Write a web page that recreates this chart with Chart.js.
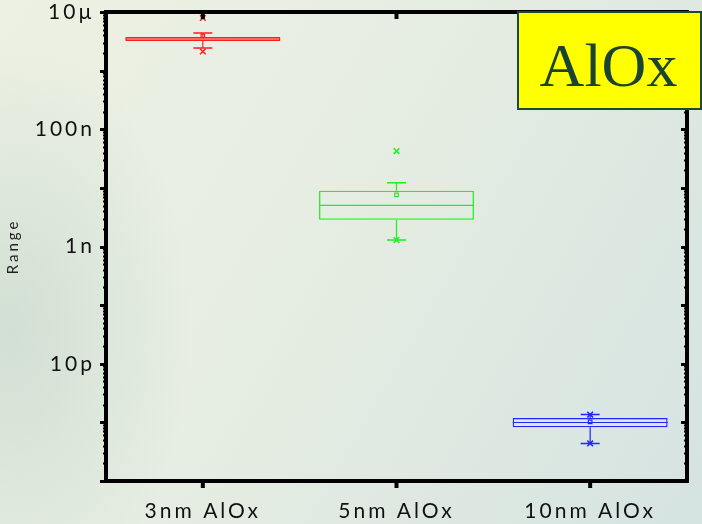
<!DOCTYPE html>
<html>
<head>
<meta charset="utf-8">
<script src="https://cdn.jsdelivr.net/npm/chart.js@4.4.1/dist/chart.umd.min.js"></script>
<style>
  html, body { margin: 0; padding: 0; }
  body {
    width: 702px; height: 524px; overflow: hidden;
    background:
      radial-gradient(ellipse 260px 420px at 10px 330px, rgba(190,210,200,0.55), rgba(190,210,200,0) 70%),
      linear-gradient(120deg, #edf1e3 0%, #e6ede2 45%, #d5e3e1 100%);
  }
  #wrap { position: relative; width: 702px; height: 524px; }
  canvas { display: block; }
</style>
</head>
<body>
<div id="wrap"><canvas id="boxes" width="702" height="524"></canvas></div>
<script>
const categories = ["3nm AlOx", "5nm AlOx", "10nm AlOx"];
const q1 = [3.2e-6, 2.86e-9, 8.28e-13];
const median = [3.46e-6, 5.03e-9, 9.95e-13];
const q3 = [3.74e-6, 8.93e-9, 1.19e-12];
const whiskerLow = [2.43e-6, 1.29e-9, 4.37e-13];
const whiskerHigh = [4.38e-6, 1.22e-8, 1.36e-12];
const mean = [3.9e-6, 7.62e-9, 1.02e-12];
const minimum = [2.12e-6, 1.29e-9, 4.37e-13];
const maximum = [7.9e-6, 4.25e-8, 1.36e-12];
const colors = ["#ff1e1e", "#1ff01f", "#2424ff"];
const decadeLabels = { "-5": "10µ", "-7": "100n", "-9": "1n", "-11": "10p" };

const FONT = "Lato, 'Open Sans', sans-serif";

// whiskers, medians, frame and the legend box
const boxParts = {
  id: "boxParts",
  beforeDraw(chart) {
    chart.ctx.letterSpacing = "3px";
  },
  afterDatasetsDraw(chart) {
    const ctx = chart.ctx;
    const y = chart.scales.y;
    const bars = chart.getDatasetMeta(0).data;
    ctx.save();
    bars.forEach((bar, i) => {
      const half = bar.width / 2;
      ctx.strokeStyle = colors[i];
      ctx.lineWidth = 1.2;
      ctx.beginPath();
      const ym = y.getPixelForValue(median[i]);
      ctx.moveTo(bar.x - half, ym);
      ctx.lineTo(bar.x + half, ym);
      const yq3 = y.getPixelForValue(q3[i]), yq1 = y.getPixelForValue(q1[i]);
      const yh = y.getPixelForValue(whiskerHigh[i]), yl = y.getPixelForValue(whiskerLow[i]);
      ctx.moveTo(bar.x, yq3); ctx.lineTo(bar.x, yh);
      ctx.moveTo(bar.x, yq1); ctx.lineTo(bar.x, yl);
      ctx.stroke();
      ctx.lineWidth = 1.6;
      ctx.beginPath();
      ctx.moveTo(bar.x - 9.5, yh); ctx.lineTo(bar.x + 9.5, yh);
      ctx.moveTo(bar.x - 9.5, yl); ctx.lineTo(bar.x + 9.5, yl);
      ctx.stroke();
    });
    ctx.restore();
  },
  afterDraw(chart) {
    const ctx = chart.ctx;
    const a = chart.chartArea;
    const y = chart.scales.y;
    const x = chart.scales.x;
    ctx.save();
    ctx.letterSpacing = "0px";
    ctx.strokeStyle = "#000";
    ctx.lineWidth = 4;
    ctx.strokeRect(a.left, a.top, a.right - a.left, a.bottom - a.top);
    // y ticks, left outside / right inside
    y.ticks.forEach(t => {
      const p = Math.round(y.getPixelForValue(t.value)) + 0.5;
      const major = Math.abs(Math.log10(t.value) - Math.round(Math.log10(t.value))) < 1e-6;
      ctx.lineWidth = major ? 3 : 2;
      const len = major ? 6 : 3;
      ctx.beginPath();
      ctx.moveTo(a.left, p); ctx.lineTo(a.left - len, p);
      ctx.moveTo(a.right, p); ctx.lineTo(a.right - len, p);
      ctx.stroke();
    });
    // x ticks, bottom outside / top inside
    ctx.lineWidth = 4;
    categories.forEach((c, i) => {
      const p = x.getPixelForValue(i);
      ctx.beginPath();
      ctx.moveTo(p, a.bottom); ctx.lineTo(p, a.bottom + 7);
      ctx.moveTo(p, a.top); ctx.lineTo(p, a.top + 7);
      ctx.stroke();
    });
    // legend tag
    const bx = a.right - 169, by = a.top, bw = 183, bh = 97;
    ctx.fillStyle = "#ffff00";
    ctx.fillRect(bx, by, bw, bh);
    ctx.strokeStyle = "#1c4a2c";
    ctx.lineWidth = 2;
    ctx.strokeRect(bx, by, bw, bh);
    ctx.fillStyle = "#1b4332";
    ctx.font = "62px 'Liberation Serif', 'DejaVu Serif', serif";
    ctx.textAlign = "center";
    ctx.textBaseline = "alphabetic";
    ctx.fillText("AlOx", bx + bw / 2 - 1, by + 74);
    ctx.restore();
  }
};

const decadeTicks = [];
for (let d = -13; d <= -5; d++) {
  for (let m = 1; m <= 9; m++) {
    if (d === -5 && m > 1) break;
    decadeTicks.push({ value: Number((m + "e" + d)) });
  }
}

new Chart(document.getElementById("boxes"), {
  type: "bar",
  data: {
    labels: categories,
    datasets: [
      {
        label: "box",
        data: categories.map((c, i) => [q1[i], q3[i]]),
        backgroundColor: "rgba(0,0,0,0)",
        borderColor: colors,
        borderWidth: 1.3,
        borderSkipped: false,
        barPercentage: 0.8,
        categoryPercentage: 1.0
      },
      {
        type: "line",
        label: "mean",
        data: mean,
        showLine: false,
        pointStyle: "rect",
        pointRadius: 2.5,
        pointBorderWidth: 1.2,
        pointBorderColor: colors,
        pointBackgroundColor: "rgba(0,0,0,0)"
      },
      {
        type: "line",
        label: "min",
        data: minimum,
        showLine: false,
        pointStyle: "crossRot",
        pointRadius: 4,
        pointBorderWidth: 1.5,
        pointBorderColor: colors
      },
      {
        type: "line",
        label: "max",
        data: maximum,
        showLine: false,
        pointStyle: "crossRot",
        pointRadius: 4,
        pointBorderWidth: 1.5,
        pointBorderColor: colors
      }
    ]
  },
  options: {
    responsive: false,
    animation: false,
    devicePixelRatio: 1,
    layout: { padding: { top: 12, right: 15, left: 0, bottom: 0 } },
    plugins: { legend: { display: false }, tooltip: { enabled: false } },
    scales: {
      x: {
        offset: true,
        grid: { display: false },
        border: { display: false },
        ticks: { color: "#111", font: { family: FONT, size: 21 }, padding: 10 },
        afterFit(scale) { scale.height = 43; scale.paddingLeft = 0; scale.paddingRight = 0; }
      },
      y: {
        type: "logarithmic",
        min: 1e-13,
        max: 1e-5,
        grid: { display: false, drawTicks: false },
        border: { display: false },
        afterBuildTicks(scale) { scale.ticks = decadeTicks.map(t => ({ value: t.value })); },
        ticks: {
          autoSkip: false,
          color: "#111",
          font: { family: FONT, size: 21 },
          padding: 11,
          callback(value) {
            const l = Math.log10(value);
            const r = Math.round(l);
            if (Math.abs(l - r) > 1e-6) return "";
            return decadeLabels[String(r)] || "";
          }
        },
        title: {
          display: true,
          text: "Range",
          color: "#222",
          font: { family: FONT, size: 15 },
          padding: { top: 4, bottom: 14 }
        },
        afterFit(scale) { scale.width = 106; scale.paddingTop = 0; scale.paddingBottom = 0; }
      }
    }
  },
  plugins: [boxParts]
});
</script>
</body>
</html>
